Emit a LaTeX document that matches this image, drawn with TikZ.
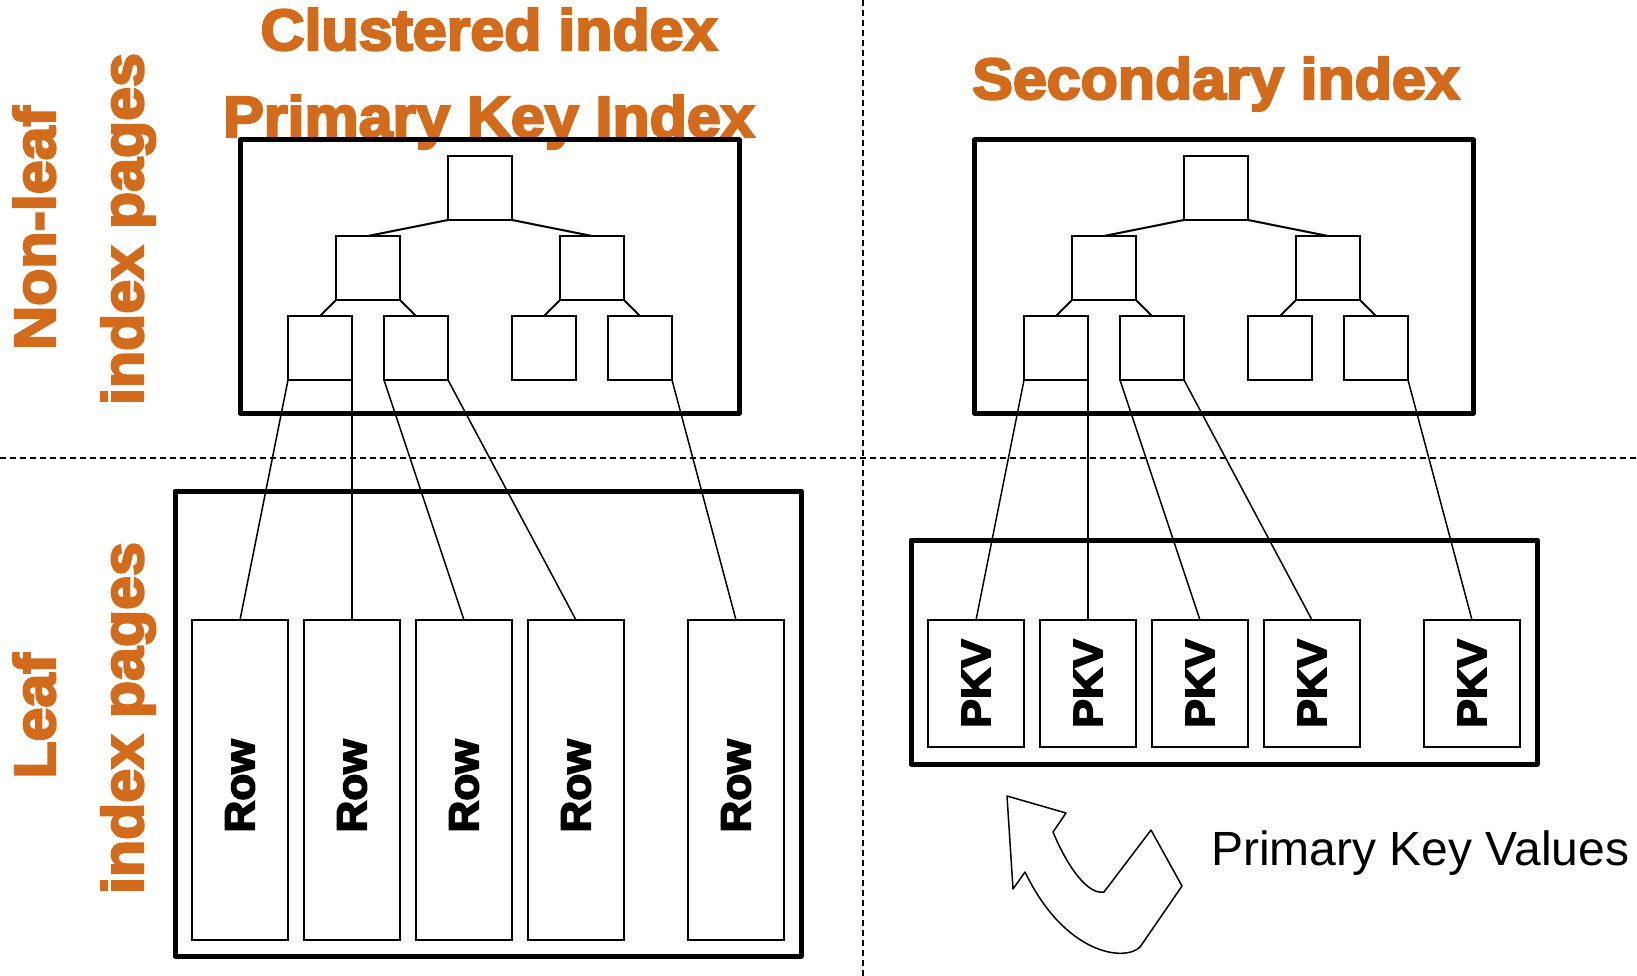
\documentclass[tikz,border=0pt]{standalone}
\usepackage{fontspec}
\usepackage{graphicx}
\setmainfont{Liberation Sans}
\newfontfamily\heavy{Liberation Sans}[BoldFeatures={FakeBold=4},FakeStretch=1.05]
\definecolor{idxorange}{RGB}{210,108,28}
\tikzset{
  pageframe/.style={draw, line width=5pt, line join=round, inner sep=0pt, outer sep=0pt},
  tbox/.style={draw, line width=2pt, minimum size=64pt, inner sep=0pt, outer sep=0pt},
  rowbox/.style={draw, line width=2pt, minimum width=96pt, minimum height=320pt, inner sep=0pt, outer sep=0pt},
  rowtext/.style={rotate=90, inner sep=0pt, font=\heavy\bfseries\fontsize{42}{44}\selectfont},
  pkvbox/.style={draw, line width=2pt, minimum width=96pt, minimum height=127pt, inner sep=0pt, outer sep=0pt,
    font=\heavy\bfseries\fontsize{41}{43}\selectfont},
  treeline/.style={line width=2pt},
  wire/.style={line width=1.5pt},
  heading/.style={text=idxorange, font=\heavy\bfseries\fontsize{58}{60}\selectfont, inner sep=0pt},
  sidelbl/.style={heading, rotate=90, anchor=base},
  divider/.style={dash pattern=on 6pt off 4pt, line width=1.5pt},
}
\begin{document}
\begin{tikzpicture}[x=1pt,y=-1pt]
\useasboundingbox (0,0) rectangle (1637,976);

% quadrant dividers
\coordinate (vtop) at (863,0);
\coordinate (vbot) at (863,976);
\coordinate (hleft) at (0,458);
\coordinate (hright) at (1637,458);
\draw[divider] (vtop) -- (vbot);
\draw[divider] (hleft) -- (hright);

% headings
\node[heading, anchor=base] (tclu) at (489,50) {Clustered index};
\node[heading, anchor=base] (tpk) at (489,137) {Primary Key Index};
\node[heading, anchor=base] (tsec) at (1216,99) {Secondary index};

% side labels
\node[sidelbl] (lnl1) at (55,228) {Non-leaf};
\node[sidelbl] (lnl2) at (143,229) {index pages};
\node[sidelbl] (ll1) at (55,716) {Leaf};
\node[sidelbl] (ll2) at (143,718) {index pages};

% ---------- clustered (primary key) index ----------
\node[pageframe, minimum width=499pt, minimum height=273pt] (cframe) at (489.5,276.5) {};
\node[tbox] (croot) at (480,188) {};
\node[tbox] (ca) at (368,268) {};
\node[tbox] (cb) at (592,268) {};
\node[tbox] (ca1) at (320,348) {};
\node[tbox] (ca2) at (416,348) {};
\node[tbox] (cb1) at (544,348) {};
\node[tbox] (cb2) at (640,348) {};
\draw[treeline] (croot.south west) -- (ca.north);
\draw[treeline] (croot.south east) -- (cb.north);
\draw[treeline] (ca.south west) -- (ca1.north);
\draw[treeline] (ca.south east) -- (ca2.north);
\draw[treeline] (cb.south west) -- (cb1.north);
\draw[treeline] (cb.south east) -- (cb2.north);

\node[pageframe, minimum width=626pt, minimum height=465pt] (cleaf) at (488,723.5) {};
\foreach \i/\x in {1/240, 2/352, 3/464, 4/576, 5/736} {
  \node[rowbox] (r\i) at (\x,780) {};
  \node[rowtext] (rt\i) at ([yshift=-6pt]r\i.center) {Row};
}
\draw[wire] (ca1.south west) -- (r1.north);
\draw[wire] (ca1.south east) -- (r2.north);
\draw[wire] (ca2.south west) -- (r3.north);
\draw[wire] (ca2.south east) -- (r4.north);
\draw[wire] (cb2.south east) -- (r5.north);

% ---------- secondary index ----------
\node[pageframe, minimum width=499pt, minimum height=273pt] (sframe) at (1224,276.5) {};
\node[tbox] (sroot) at (1216,188) {};
\node[tbox] (sa) at (1104,268) {};
\node[tbox] (sb) at (1328,268) {};
\node[tbox] (sa1) at (1056,348) {};
\node[tbox] (sa2) at (1152,348) {};
\node[tbox] (sb1) at (1280,348) {};
\node[tbox] (sb2) at (1376,348) {};
\draw[treeline] (sroot.south west) -- (sa.north);
\draw[treeline] (sroot.south east) -- (sb.north);
\draw[treeline] (sa.south west) -- (sa1.north);
\draw[treeline] (sa.south east) -- (sa2.north);
\draw[treeline] (sb.south west) -- (sb1.north);
\draw[treeline] (sb.south east) -- (sb2.north);

\node[pageframe, minimum width=626pt, minimum height=224pt] (sleaf) at (1224,652) {};
\foreach \i/\x in {1/976, 2/1088, 3/1200, 4/1312, 5/1472} {
  \node[pkvbox] (p\i) at (\x,683.5) {\rotatebox{90}{PKV}};
}
\draw[wire] (sa1.south west) -- (p1.north);
\draw[wire] (sa1.south east) -- (p2.north);
\draw[wire] (sa2.south west) -- (p3.north);
\draw[wire] (sa2.south east) -- (p4.north);
\draw[wire] (sb2.south east) -- (p5.north);

% U-turn arrow and its caption
\draw[line width=1.5pt, line join=round]
  (1007,796) -- (1066,813) -- (1053,832)
  .. controls (1068,868) and (1088,895) .. (1104,892)
  -- (1151,830) -- (1182,886) -- (1140,947)
  .. controls (1125,962) and (1065,955) .. (1025,872)
  -- (1013,889) -- cycle;
\node[anchor=base west, inner sep=0pt, font=\fontsize{48}{50}\selectfont] (pkvcap) at (1211,865) {Primary Key Values};
\end{tikzpicture}
\end{document}
